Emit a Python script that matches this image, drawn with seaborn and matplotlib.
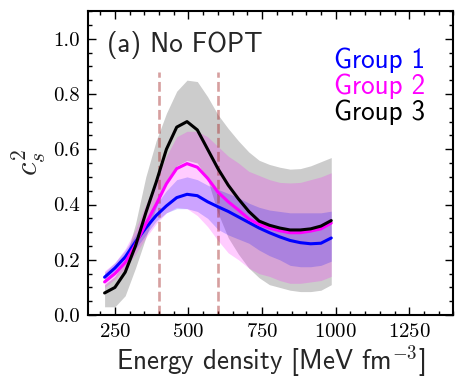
import numpy as np
import pandas as pd
import matplotlib
matplotlib.use("Agg")
import matplotlib.pyplot as plt
from matplotlib.ticker import MultipleLocator, FormatStrFormatter
from matplotlib.lines import Line2D
import seaborn as sns

# ---------------- data ----------------
energy = [215, 250, 285, 320, 355, 390, 425, 460, 495, 530, 565, 600,
          635, 670, 705, 740, 775, 810, 845, 880, 915, 950, 985]

g1_mid = [0.137, 0.170, 0.210, 0.265, 0.315, 0.360, 0.395, 0.425, 0.437, 0.432, 0.410, 0.392,
          0.375, 0.355, 0.335, 0.315, 0.298, 0.283, 0.270, 0.262, 0.258, 0.260, 0.279]
g1_lo = [0.120, 0.150, 0.190, 0.240, 0.290, 0.340, 0.370, 0.385, 0.385, 0.375, 0.350, 0.310,
         0.290, 0.275, 0.260, 0.235, 0.215, 0.200, 0.180, 0.175, 0.175, 0.180, 0.195]
g1_hi = [0.155, 0.190, 0.235, 0.290, 0.345, 0.400, 0.450, 0.490, 0.500, 0.490, 0.470, 0.455,
         0.440, 0.425, 0.405, 0.390, 0.380, 0.375, 0.370, 0.370, 0.370, 0.370, 0.376]

g2_mid = [0.120, 0.150, 0.190, 0.255, 0.330, 0.400, 0.475, 0.530, 0.548, 0.535, 0.495, 0.445,
          0.410, 0.380, 0.348, 0.328, 0.315, 0.305, 0.298, 0.298, 0.304, 0.312, 0.333]
g2_lo = [0.100, 0.130, 0.170, 0.220, 0.280, 0.330, 0.370, 0.390, 0.385, 0.360, 0.320, 0.270,
         0.225, 0.200, 0.170, 0.150, 0.140, 0.125, 0.115, 0.115, 0.120, 0.125, 0.140]
g2_hi = [0.160, 0.190, 0.240, 0.310, 0.400, 0.490, 0.575, 0.645, 0.665, 0.665, 0.645, 0.610,
         0.575, 0.550, 0.520, 0.505, 0.490, 0.480, 0.478, 0.480, 0.490, 0.500, 0.515]

g3_mid = [0.080, 0.100, 0.155, 0.250, 0.370, 0.480, 0.600, 0.680, 0.700, 0.670, 0.600, 0.530,
          0.470, 0.420, 0.375, 0.340, 0.325, 0.315, 0.308, 0.308, 0.312, 0.322, 0.342]
g3_lo = [0.030, 0.030, 0.070, 0.170, 0.280, 0.390, 0.480, 0.540, 0.560, 0.550, 0.490, 0.370,
         0.280, 0.220, 0.170, 0.135, 0.110, 0.100, 0.090, 0.085, 0.085, 0.090, 0.110]
g3_hi = [0.110, 0.140, 0.200, 0.330, 0.500, 0.630, 0.730, 0.810, 0.850, 0.845, 0.790, 0.725,
         0.675, 0.630, 0.590, 0.560, 0.545, 0.535, 0.528, 0.530, 0.540, 0.555, 0.570]

groups = ["Group 1", "Group 2", "Group 3"]
colors = ["blue", "magenta", "black"]
band_colors = ["blue", "magenta", "black"]
band_alpha = 0.2

vline_x = [400, 600]
vline_top = 0.88

panel_label = "(a) No FOPT"
xlabel = "Energy density [MeV fm$^{-3}$]"
ylabel = "$c_s^2$"

# ---------------- style ----------------
sns.set_style("ticks")
plt.rcParams["mathtext.fontset"] = "cm"
plt.rcParams["axes.unicode_minus"] = False
plt.rcParams["axes.formatter.use_mathtext"] = True

fig = plt.figure(figsize=(4.58, 3.81), dpi=100)
ax = fig.add_axes([0.193, 0.173, 0.797, 0.798])

mids = [g1_mid, g2_mid, g3_mid]
los = [g1_lo, g2_lo, g3_lo]
his = [g1_hi, g2_hi, g3_hi]

# bands (grey first, then magenta, then blue)
for i in [2, 1, 0]:
    ax.fill_between(energy, los[i], his[i], color=band_colors[i],
                    alpha=band_alpha, linewidth=0, zorder=1)

# vertical dashed lines
ax.vlines(vline_x, 0, vline_top, colors="#a52a2a", alpha=0.45,
          linestyles="--", linewidth=1.9, zorder=2)

# lines via seaborn
df = pd.DataFrame({
    "energy": np.tile(energy, 3),
    "cs2": np.concatenate([g1_mid, g2_mid, g3_mid]),
    "group": np.repeat(groups, len(energy)),
})
sns.lineplot(data=df, x="energy", y="cs2", hue="group", hue_order=groups,
             palette=dict(zip(groups, colors)), linewidth=2.2, ax=ax,
             legend=False, zorder=3)

ax.set_xlim(160, 1400)
ax.set_ylim(0, 1.1)
ax.xaxis.set_major_locator(MultipleLocator(250))
ax.xaxis.set_minor_locator(MultipleLocator(50))
ax.yaxis.set_major_locator(MultipleLocator(0.2))
ax.yaxis.set_minor_locator(MultipleLocator(0.05))
ax.yaxis.set_major_formatter(FormatStrFormatter("%.1f"))

ax.tick_params(which="both", direction="in", top=True, right=True,
               colors="black", width=1.0)
ax.tick_params(which="major", length=6, labelsize=15, pad=6)
ax.tick_params(which="minor", length=3)
for lab in ax.get_xticklabels() + ax.get_yticklabels():
    lab.set_fontfamily("cmr10")
for s in ax.spines.values():
    s.set_linewidth(1.5)
    s.set_color("black")

ax.set_xlabel(xlabel, fontfamily="cmss10", fontsize=19.5, labelpad=1)
ax.set_ylabel(ylabel, fontsize=22, labelpad=4)

ax.text(0.051, 0.865, panel_label, transform=ax.transAxes,
        fontfamily="cmss10", fontsize=19.5, va="baseline", ha="left")

# legend with coloured text only
handles = [Line2D([], [], color=c) for c in colors]
leg = ax.legend(handles, groups, loc="upper left", bbox_to_anchor=(0.672, 0.88),
                frameon=False, handlelength=0, handletextpad=0,
                labelspacing=0.02, borderpad=0, borderaxespad=0,
                prop={"family": "cmss10", "size": 19.5})
for t, c in zip(leg.get_texts(), colors):
    t.set_color(c)
for h in leg.legend_handles:
    h.set_visible(False)

fig.savefig("out.png", dpi=100)
